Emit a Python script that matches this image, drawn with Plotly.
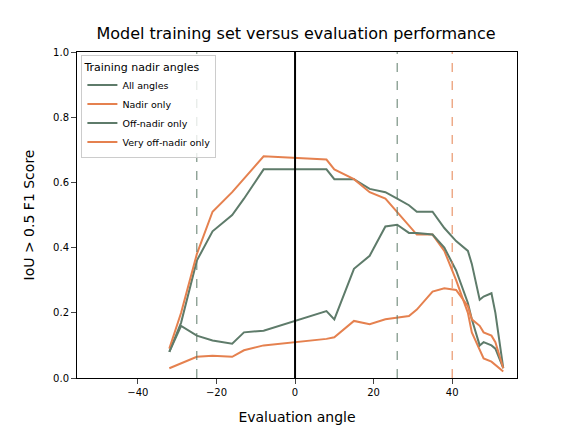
import plotly.graph_objects as go

# evaluation angles (signed nadir angle)
angles = [-32, -29, -25, -21, -16, -13, -8, 8, 10, 15, 19, 23, 26, 29, 31, 35, 38, 41, 44, 45, 47, 48, 50, 51, 53]

all_angles = [0.08, 0.17, 0.36, 0.45, 0.50, 0.55, 0.64, 0.64, 0.61, 0.61, 0.58, 0.57, 0.55, 0.53, 0.51, 0.51, 0.46, 0.42, 0.39, 0.35, 0.24, 0.25, 0.26, 0.20, 0.03]
nadir_only = [0.09, 0.20, 0.38, 0.51, 0.57, 0.61, 0.68, 0.67, 0.64, 0.61, 0.57, 0.55, 0.51, 0.47, 0.44, 0.44, 0.39, 0.30, 0.20, 0.14, 0.09, 0.06, 0.05, 0.04, 0.02]
off_nadir_only = [0.08, 0.16, 0.13, 0.115, 0.105, 0.14, 0.145, 0.205, 0.18, 0.335, 0.375, 0.465, 0.47, 0.445, 0.445, 0.44, 0.40, 0.33, 0.23, 0.18, 0.10, 0.11, 0.10, 0.09, 0.03]
very_off_nadir_only = [0.03, 0.045, 0.065, 0.068, 0.065, 0.085, 0.10, 0.12, 0.125, 0.175, 0.165, 0.18, 0.185, 0.19, 0.21, 0.265, 0.275, 0.27, 0.22, 0.18, 0.16, 0.14, 0.13, 0.11, 0.03]

series = [("All angles", all_angles), ("Nadir only", nadir_only),
          ("Off-nadir only", off_nadir_only), ("Very off-nadir only", very_off_nadir_only)]
green = "#5e7b6a"
orange = "#e5814f"
colors = [green, orange, green, orange]

fig = go.Figure()
for (name, vals), c in zip(series, colors):
    fig.add_trace(go.Scatter(x=angles, y=vals, mode="lines", name=name,
                             line=dict(color=c, width=2)))

# training-angle markers
for xv, c, dash in [(-25, green, "dash"), (26, green, "dash"), (40, orange, "dash"), (0, "black", "solid")]:
    fig.add_shape(type="line", x0=xv, x1=xv, y0=0, y1=1, xref="x", yref="y",
                  line=dict(color=c, width=2 if xv == 0 else 1, dash=dash))

fig.update_layout(
    width=576, height=432,
    margin=dict(l=69, r=67, t=44, b=62),
    plot_bgcolor="white", paper_bgcolor="white",
    font=dict(family="DejaVu Sans", size=10, color="black"),
    title=dict(text="Model training set versus evaluation performance", x=0.5, xanchor="center",
               y=0.955, font=dict(size=16)),
    legend=dict(title=dict(text="Training nadir angles", side="top"), x=0.01, y=0.99,
                xanchor="left", yanchor="top", bordercolor="#cccccc", borderwidth=1,
                bgcolor="rgba(255,255,255,0.8)", font=dict(size=9.5)),
)
fig.update_xaxes(range=[-55.5, 56.5], tickvals=[-40, -20, 0, 20, 40], showgrid=False, zeroline=False,
                 showline=True, linecolor="black", mirror=True, ticks="outside",
                 title=dict(text="Evaluation angle", font=dict(size=14)))
fig.update_yaxes(range=[0, 1], dtick=0.2, tickformat=".1f", showgrid=False, zeroline=False,
                 showline=True, linecolor="black", mirror=True, ticks="outside",
                 title=dict(text="IoU > 0.5 F1 Score", font=dict(size=14)))

fig.write_html("out.html")
